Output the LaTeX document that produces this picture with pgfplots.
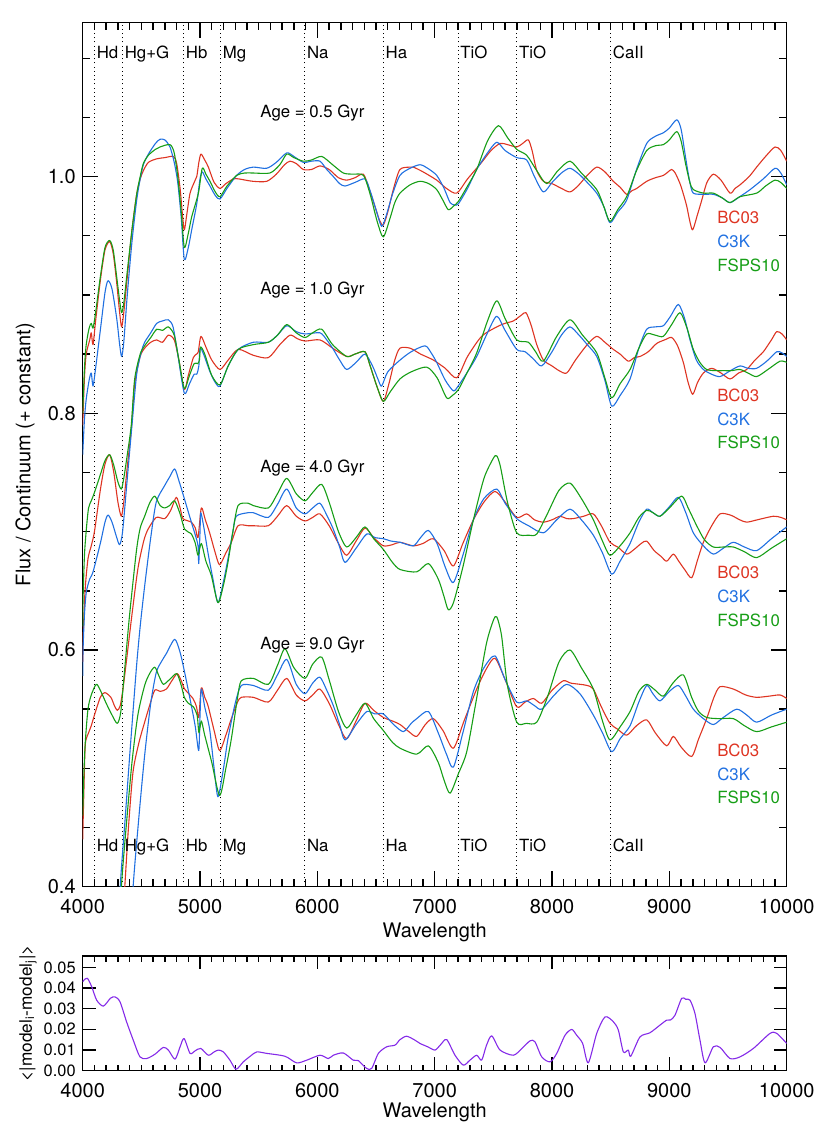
\documentclass[border=0pt]{standalone}
\usepackage{fontspec}
\setmainfont{TeX Gyre Heros}
\usepackage{pgfplots}
\pgfplotsset{compat=1.18}
\definecolor{cred}{RGB}{222,52,34}
\definecolor{cblue}{RGB}{32,112,225}
\definecolor{cgreen}{RGB}{22,158,22}
\definecolor{cpurp}{RGB}{132,42,232}
\newcommand{\smallf}{\fontsize{8.4}{10}\selectfont}
\tikzset{
  dotline/.style={black, line width=0.45pt, dash pattern=on 0.5pt off 1.6pt},
  lab/.style={anchor=base west, inner sep=0pt, xshift=0.9pt, font=\smallf},
  leg/.style={anchor=base west, inner sep=0pt, font=\smallf},
  spec/.style={line width=0.55pt, smooth, tension=0.45, line join=round},
}
\begin{document}
\fontsize{10}{12}\selectfont
\begin{tikzpicture}
\path[use as bounding box] (0,0) rectangle (414pt,569.5pt);
\begin{axis}[
  at={(41.35pt,126.15pt)}, anchor=south west,
  scale only axis, width=352pt, height=432pt,
  xmin=4000, xmax=10000, ymin=0.4, ymax=1.13,
  xtick={4000,5000,...,10000}, minor x tick num=9,
  ytick={0.4,0.6,0.8,1.0},
  minor ytick={0.45,0.5,0.55,0.65,0.7,0.75,0.85,0.9,0.95,1.05,1.1},
  scaled x ticks=false, scaled y ticks=false,
  tick align=inside, tick pos=both,
  major tick length=7.6pt, minor tick length=3.6pt,
  tick style={black, line width=0.7pt},
  axis line style={line width=0.75pt},
  /pgf/number format/assume math mode=true,
  /pgf/number format/1000 sep={},
  xticklabel style={anchor=base, yshift=-13.5pt},
  yticklabel style={/pgf/number format/fixed, /pgf/number format/precision=1, /pgf/number format/fixed zerofill},
  xlabel={Wavelength},
  xlabel style={at={(axis description cs:0.5,0)}, anchor=base, yshift=-25.3pt},
  ylabel={Flux / Continuum (+ constant)},
  ylabel style={at={(axis description cs:-0.082,0.5)}, anchor=center},
  clip=true,
]
% dotted line markers
\addplot[dotline] coordinates {(4102,0.4) (4102,1.13)};
\addplot[dotline] coordinates {(4340,0.4) (4340,1.13)};
\addplot[dotline] coordinates {(4861,0.4) (4861,1.13)};
\addplot[dotline] coordinates {(5175,0.4) (5175,1.13)};
\addplot[dotline] coordinates {(5893,0.4) (5893,1.13)};
\addplot[dotline] coordinates {(6563,0.4) (6563,1.13)};
\addplot[dotline] coordinates {(7200,0.4) (7200,1.13)};
\addplot[dotline] coordinates {(7700,0.4) (7700,1.13)};
\addplot[dotline] coordinates {(8500,0.4) (8500,1.13)};
% ---------------- Age 0.5 Gyr ----------------
\addplot[cred, spec] coordinates {(4000,0.790) (4015,0.830) (4030,0.850) (4060,0.862) (4073,0.868) (4088,0.858) (4110,0.878) (4150,0.912) (4190,0.938) (4230,0.945) (4260,0.935) (4290,0.910) (4315,0.885) (4332,0.873) (4350,0.885) (4380,0.915) (4420,0.955) (4460,0.985) (4490,0.998) (4517,1.005) (4560,1.012) (4631,1.015) (4700,1.016) (4773,1.017) (4801,1.011) (4830,0.990) (4850,0.968) (4866,0.955) (4890,0.970) (4915,0.986) (4950,0.995) (4972,1.000) (4990,1.012) (5008,1.019) (5040,1.014) (5071,1.008) (5120,0.995) (5170,0.990) (5220,0.994) (5284,0.998) (5330,0.998) (5450,0.996) (5568,0.996) (5650,1.002) (5720,1.010) (5767,1.013) (5820,1.011) (5880,1.006) (5950,1.006) (6022,1.009) (6100,1.006) (6180,0.999) (6250,0.997) (6320,0.999) (6392,1.002) (6440,0.990) (6490,0.975) (6530,0.963) (6562,0.959) (6600,0.970) (6650,0.990) (6704,1.006) (6790,1.008) (6818,1.008) (6900,1.004) (7017,0.997) (7100,0.990) (7188,0.986) (7280,0.998) (7400,1.012) (7480,1.022) (7557,1.028) (7620,1.027) (7699,1.025) (7750,1.028) (7798,1.031) (7830,1.022) (7870,1.005) (7926,0.996) (8000,0.994) (8080,0.990) (8153,0.987) (8220,0.992) (8300,1.001) (8381,1.008) (8450,1.004) (8522,0.996) (8580,0.991) (8636,0.985) (8680,0.988) (8722,0.990) (8807,0.996) (8880,0.999) (8949,1.001) (8990,1.004) (9020,1.006) (9050,1.003) (9091,0.994) (9120,0.985) (9148,0.975) (9175,0.962) (9199,0.955) (9240,0.968) (9276,0.980) (9320,0.995) (9375,1.002) (9440,0.997) (9517,0.986) (9560,0.990) (9602,0.993) (9680,1.000) (9744,1.008) (9820,1.017) (9900,1.025) (9950,1.022) (10000,1.013)};
\addplot[cblue, spec] coordinates {(4000,0.765) (4015,0.795) (4030,0.812) (4055,0.828) (4073,0.834) (4088,0.823) (4110,0.838) (4150,0.870) (4190,0.902) (4216,0.912) (4250,0.905) (4290,0.880) (4315,0.858) (4332,0.848) (4350,0.860) (4380,0.900) (4420,0.945) (4460,0.980) (4490,0.998) (4517,1.010) (4560,1.019) (4620,1.028) (4659,1.0315) (4700,1.031) (4744,1.025) (4780,1.012) (4810,0.995) (4840,0.965) (4866,0.930) (4900,0.940) (4929,0.955) (4972,0.977) (5000,0.998) (5019,1.004) (5050,0.998) (5085,0.992) (5130,0.984) (5170,0.981) (5230,0.990) (5312,1.001) (5380,1.006) (5454,1.008) (5568,1.007) (5650,1.012) (5739,1.020) (5800,1.017) (5880,1.012) (5950,1.013) (6022,1.013) (6080,1.006) (6136,1.000) (6190,0.994) (6236,0.992) (6320,0.995) (6406,0.998) (6450,0.988) (6500,0.972) (6548,0.958) (6590,0.968) (6640,0.985) (6704,1.001) (6790,1.007) (6875,1.010) (6940,1.007) (7017,1.001) (7080,0.990) (7131,0.978) (7170,0.976) (7202,0.977) (7280,0.990) (7358,1.006) (7450,1.020) (7529,1.029) (7600,1.022) (7699,1.016) (7784,1.014) (7850,1.000) (7926,0.987) (8000,0.995) (8080,1.003) (8153,1.007) (8230,1.002) (8300,0.995) (8381,0.986) (8440,0.975) (8494,0.961) (8560,0.970) (8636,0.980) (8720,1.006) (8807,1.028) (8880,1.034) (8949,1.037) (9000,1.041) (9063,1.048) (9100,1.040) (9140,1.015) (9175,0.995) (9204,0.986) (9290,0.985) (9375,0.985) (9450,0.982) (9517,0.978) (9600,0.983) (9688,0.989) (9800,0.998) (9900,1.007) (9950,1.003) (10000,0.993)};
\addplot[cgreen, spec] coordinates {(4000,0.800) (4015,0.838) (4030,0.858) (4055,0.872) (4073,0.876) (4088,0.872) (4110,0.885) (4150,0.915) (4190,0.940) (4230,0.946) (4260,0.938) (4290,0.915) (4315,0.895) (4332,0.885) (4350,0.893) (4380,0.920) (4420,0.955) (4460,0.985) (4490,1.000) (4517,1.011) (4560,1.018) (4620,1.023) (4659,1.025) (4744,1.027) (4780,1.020) (4810,1.000) (4840,0.970) (4866,0.940) (4900,0.952) (4929,0.966) (4986,0.986) (5019,1.007) (5050,1.002) (5085,0.996) (5130,0.987) (5170,0.983) (5230,0.992) (5312,1.001) (5380,1.003) (5454,1.003) (5596,1.003) (5680,1.010) (5739,1.019) (5800,1.016) (5880,1.013) (5950,1.014) (6037,1.017) (6130,1.010) (6221,1.003) (6300,1.002) (6392,1.001) (6450,0.985) (6510,0.962) (6562,0.949) (6620,0.965) (6660,0.978) (6704,0.986) (6790,0.993) (6875,0.996) (6950,0.994) (7017,0.989) (7070,0.980) (7116,0.972) (7160,0.975) (7202,0.979) (7280,0.992) (7358,1.006) (7450,1.030) (7543,1.043) (7620,1.033) (7699,1.023) (7784,1.018) (7870,1.005) (7955,0.994) (8050,1.005) (8153,1.013) (8250,1.003) (8381,0.989) (8440,0.975) (8494,0.962) (8560,0.972) (8636,0.983) (8720,1.005) (8807,1.022) (8880,1.026) (8949,1.027) (9000,1.031) (9063,1.038) (9100,1.030) (9140,1.010) (9175,0.995) (9204,0.989) (9290,0.986) (9375,0.986) (9450,0.982) (9517,0.978) (9602,0.983) (9744,0.986) (9820,0.992) (9900,0.997) (9950,0.995) (10000,0.990)};
% ---------------- Age 1.0 Gyr ----------------
\addplot[cred, spec] coordinates {(4000,0.590) (4003,0.609) (4020,0.650) (4045,0.677) (4073,0.688) (4100,0.700) (4150,0.735) (4190,0.757) (4230,0.765) (4265,0.750) (4300,0.725) (4329,0.713) (4350,0.725) (4380,0.755) (4414,0.786) (4443,0.825) (4490,0.848) (4528,0.855) (4580,0.860) (4631,0.862) (4680,0.860) (4730,0.866) (4780,0.862) (4820,0.845) (4866,0.820) (4900,0.832) (4943,0.847) (4970,0.850) (4985,0.852) (5008,0.865) (5050,0.856) (5100,0.845) (5170,0.837) (5240,0.845) (5326,0.854) (5454,0.849) (5582,0.847) (5680,0.858) (5767,0.866) (5830,0.863) (5895,0.861) (6022,0.862) (6130,0.855) (6250,0.848) (6320,0.850) (6406,0.852) (6450,0.840) (6510,0.822) (6562,0.810) (6610,0.825) (6660,0.845) (6704,0.855) (6790,0.855) (6880,0.850) (6988,0.845) (7090,0.838) (7188,0.830) (7280,0.848) (7400,0.865) (7529,0.873) (7600,0.876) (7670,0.878) (7740,0.883) (7778,0.885) (7820,0.875) (7870,0.858) (7926,0.845) (8000,0.840) (8060,0.836) (8125,0.834) (8200,0.845) (8300,0.858) (8381,0.865) (8450,0.860) (8522,0.854) (8580,0.850) (8650,0.844) (8700,0.847) (8750,0.848) (8820,0.852) (8892,0.859) (8960,0.862) (9020,0.864) (9070,0.857) (9119,0.843) (9160,0.826) (9199,0.816) (9240,0.826) (9290,0.834) (9361,0.838) (9440,0.834) (9517,0.829) (9590,0.834) (9659,0.837) (9730,0.845) (9801,0.852) (9870,0.862) (9915,0.869) (9960,0.867) (10000,0.862)};
\addplot[cblue, spec] coordinates {(4000,0.578) (4003,0.600) (4015,0.630) (4031,0.649) (4060,0.660) (4088,0.666) (4150,0.690) (4190,0.708) (4216,0.714) (4250,0.708) (4290,0.695) (4315,0.689) (4340,0.700) (4380,0.745) (4420,0.790) (4460,0.833) (4500,0.852) (4528,0.860) (4580,0.868) (4631,0.876) (4680,0.878) (4730,0.879) (4770,0.873) (4810,0.850) (4866,0.817) (4910,0.825) (4950,0.833) (4972,0.833) (4990,0.840) (5000,0.855) (5030,0.850) (5085,0.835) (5130,0.826) (5170,0.823) (5240,0.840) (5326,0.854) (5454,0.860) (5582,0.860) (5660,0.866) (5739,0.874) (5820,0.869) (5895,0.867) (6022,0.868) (6080,0.862) (6136,0.854) (6190,0.845) (6250,0.837) (6330,0.843) (6406,0.850) (6470,0.840) (6520,0.828) (6548,0.823) (6600,0.835) (6705,0.845) (6800,0.852) (6918,0.857) (6970,0.851) (7017,0.843) (7090,0.828) (7159,0.819) (7200,0.823) (7280,0.835) (7358,0.848) (7450,0.868) (7529,0.882) (7600,0.870) (7699,0.854) (7770,0.852) (7840,0.846) (7912,0.840) (8000,0.852) (8080,0.866) (8153,0.873) (8230,0.866) (8300,0.858) (8381,0.848) (8450,0.828) (8509,0.806) (8580,0.815) (8665,0.829) (8740,0.855) (8807,0.871) (8880,0.873) (8949,0.874) (9010,0.882) (9077,0.892) (9130,0.880) (9176,0.862) (9230,0.845) (9290,0.837) (9360,0.833) (9432,0.831) (9520,0.836) (9602,0.840) (9670,0.838) (9744,0.838) (9830,0.844) (9915,0.852) (9960,0.851) (10000,0.848)};
\addplot[cgreen, spec] coordinates {(4000,0.620) (4003,0.643) (4015,0.680) (4031,0.702) (4050,0.720) (4073,0.726) (4100,0.733) (4150,0.748) (4190,0.760) (4230,0.765) (4265,0.756) (4300,0.742) (4329,0.736) (4350,0.745) (4380,0.765) (4414,0.790) (4443,0.829) (4490,0.850) (4528,0.857) (4580,0.864) (4631,0.871) (4680,0.870) (4730,0.873) (4780,0.866) (4820,0.845) (4866,0.821) (4910,0.832) (4950,0.842) (4980,0.842) (4995,0.845) (5005,0.856) (5040,0.850) (5100,0.832) (5170,0.824) (5240,0.840) (5326,0.854) (5454,0.858) (5582,0.860) (5660,0.866) (5739,0.875) (5820,0.868) (5895,0.864) (5960,0.868) (6037,0.871) (6130,0.858) (6250,0.848) (6320,0.850) (6406,0.852) (6450,0.840) (6510,0.822) (6562,0.810) (6620,0.818) (6704,0.829) (6800,0.835) (6932,0.839) (7020,0.830) (7102,0.813) (7150,0.815) (7202,0.820) (7280,0.835) (7358,0.851) (7450,0.878) (7529,0.895) (7600,0.880) (7699,0.862) (7798,0.860) (7860,0.852) (7926,0.844) (8040,0.865) (8153,0.879) (8260,0.866) (8381,0.851) (8450,0.830) (8509,0.813) (8580,0.825) (8665,0.837) (8740,0.855) (8807,0.867) (8880,0.866) (8949,0.865) (9020,0.875) (9091,0.885) (9150,0.872) (9204,0.854) (9260,0.843) (9318,0.837) (9400,0.836) (9460,0.836) (9530,0.836) (9602,0.837) (9670,0.834) (9744,0.831) (9840,0.837) (9943,0.844) (10000,0.843)};
% ---------------- Age 4.0 Gyr ----------------
\addplot[cred, spec] coordinates {(4000,0.440) (4010,0.480) (4022,0.520) (4050,0.530) (4073,0.536) (4100,0.545) (4150,0.560) (4188,0.564) (4240,0.560) (4270,0.553) (4295,0.549) (4320,0.553) (4343,0.567) (4372,0.590) (4420,0.630) (4471,0.669) (4520,0.692) (4557,0.702) (4627,0.712) (4699,0.711) (4750,0.718) (4798,0.729) (4830,0.720) (4855,0.711) (4926,0.708) (4960,0.703) (4983,0.695) (5011,0.720) (5045,0.710) (5082,0.699) (5130,0.682) (5167,0.672) (5220,0.682) (5267,0.691) (5324,0.705) (5409,0.705) (5454,0.705) (5582,0.705) (5660,0.713) (5739,0.722) (5820,0.713) (5895,0.709) (5960,0.712) (6022,0.715) (6100,0.705) (6180,0.690) (6250,0.680) (6330,0.692) (6406,0.703) (6480,0.695) (6562,0.688) (6640,0.689) (6705,0.691) (6818,0.688) (6900,0.690) (6988,0.694) (7080,0.684) (7159,0.671) (7240,0.690) (7330,0.710) (7420,0.725) (7514,0.734) (7600,0.725) (7699,0.712) (7784,0.715) (7850,0.710) (7926,0.708) (8000,0.710) (8068,0.713) (8125,0.711) (8181,0.711) (8270,0.713) (8352,0.715) (8420,0.705) (8494,0.691) (8560,0.687) (8636,0.681) (8700,0.685) (8760,0.690) (8807,0.692) (8870,0.684) (8930,0.679) (8977,0.675) (9034,0.681) (9080,0.675) (9130,0.668) (9190,0.661) (9240,0.676) (9290,0.691) (9361,0.705) (9432,0.715) (9520,0.714) (9600,0.710) (9659,0.708) (9750,0.710) (9886,0.713) (9950,0.712) (10000,0.710)};
\addplot[cblue, spec] coordinates {(4000,0.300) (4300,0.340) (4320,0.400) (4360,0.455) (4400,0.510) (4457,0.584) (4490,0.620) (4528,0.654) (4580,0.695) (4627,0.725) (4699,0.739) (4740,0.746) (4784,0.753) (4820,0.743) (4869,0.727) (4926,0.708) (4960,0.697) (4983,0.688) (4989,0.673) (5000,0.700) (5006,0.716) (5030,0.705) (5068,0.682) (5110,0.660) (5153,0.640) (5200,0.658) (5238,0.677) (5280,0.700) (5309,0.713) (5409,0.716) (5454,0.716) (5582,0.712) (5660,0.723) (5739,0.736) (5820,0.720) (5895,0.715) (5960,0.720) (6022,0.724) (6080,0.714) (6136,0.702) (6190,0.687) (6236,0.674) (6330,0.686) (6421,0.698) (6490,0.695) (6562,0.694) (6630,0.692) (6705,0.691) (6818,0.688) (6880,0.695) (6946,0.701) (7020,0.690) (7090,0.670) (7159,0.657) (7240,0.680) (7330,0.710) (7420,0.728) (7529,0.736) (7600,0.724) (7699,0.711) (7800,0.705) (7926,0.699) (8040,0.710) (8153,0.719) (8250,0.710) (8352,0.697) (8430,0.682) (8509,0.664) (8580,0.675) (8665,0.690) (8740,0.708) (8807,0.719) (8860,0.716) (8920,0.713) (9000,0.721) (9077,0.729) (9140,0.716) (9204,0.699) (9290,0.688) (9375,0.681) (9460,0.686) (9545,0.691) (9640,0.687) (9744,0.684) (9870,0.694) (10000,0.704)};
\addplot[cgreen, spec] coordinates {(4000,0.460) (4010,0.495) (4022,0.522) (4045,0.550) (4073,0.562) (4116,0.571) (4150,0.566) (4200,0.555) (4250,0.545) (4295,0.538) (4325,0.548) (4358,0.584) (4400,0.630) (4457,0.683) (4490,0.703) (4528,0.713) (4570,0.724) (4614,0.730) (4660,0.722) (4699,0.720) (4740,0.722) (4784,0.726) (4830,0.715) (4869,0.702) (4926,0.698) (4960,0.690) (4983,0.680) (5011,0.690) (5050,0.675) (5096,0.663) (5153,0.640) (5200,0.655) (5238,0.674) (5280,0.700) (5324,0.722) (5409,0.724) (5454,0.722) (5582,0.720) (5660,0.732) (5739,0.745) (5820,0.732) (5895,0.726) (5960,0.733) (6037,0.740) (6100,0.725) (6180,0.700) (6250,0.687) (6330,0.695) (6406,0.704) (6480,0.694) (6562,0.685) (6640,0.674) (6705,0.668) (6847,0.666) (6946,0.673) (7030,0.660) (7080,0.645) (7116,0.634) (7160,0.640) (7240,0.670) (7330,0.710) (7420,0.745) (7500,0.762) (7529,0.764) (7560,0.755) (7620,0.725) (7699,0.699) (7800,0.697) (7870,0.698) (7960,0.715) (8060,0.735) (8153,0.741) (8250,0.728) (8352,0.710) (8430,0.692) (8494,0.680) (8580,0.688) (8665,0.699) (8740,0.712) (8807,0.718) (8860,0.716) (8920,0.713) (9000,0.720) (9105,0.730) (9160,0.720) (9233,0.705) (9300,0.693) (9375,0.687) (9460,0.687) (9545,0.687) (9640,0.683) (9744,0.678) (9870,0.686) (10000,0.694)};
% ---------------- Age 9.0 Gyr ----------------
\addplot[cred, spec] coordinates {(4000,0.300) (4330,0.360) (4358,0.399) (4390,0.450) (4429,0.497) (4480,0.522) (4528,0.539) (4570,0.553) (4614,0.566) (4660,0.565) (4713,0.567) (4760,0.574) (4806,0.580) (4840,0.574) (4869,0.567) (4940,0.559) (4970,0.552) (4989,0.543) (5011,0.568) (5040,0.560) (5068,0.553) (5120,0.532) (5167,0.515) (5220,0.528) (5267,0.542) (5320,0.556) (5352,0.560) (5454,0.560) (5582,0.556) (5660,0.566) (5739,0.576) (5820,0.562) (5895,0.557) (5960,0.562) (6022,0.567) (6100,0.555) (6180,0.537) (6250,0.525) (6330,0.540) (6406,0.555) (6480,0.549) (6562,0.543) (6640,0.540) (6705,0.537) (6780,0.531) (6847,0.527) (6920,0.537) (6988,0.542) (7070,0.532) (7159,0.517) (7250,0.540) (7358,0.567) (7440,0.584) (7514,0.593) (7600,0.575) (7699,0.552) (7770,0.556) (7841,0.559) (7912,0.555) (8000,0.566) (8096,0.574) (8160,0.572) (8238,0.571) (8300,0.570) (8352,0.567) (8420,0.552) (8494,0.538) (8560,0.533) (8636,0.528) (8720,0.536) (8807,0.541) (8880,0.530) (8977,0.519) (9034,0.527) (9100,0.518) (9190,0.510) (9250,0.525) (9318,0.542) (9380,0.560) (9432,0.569) (9545,0.567) (9650,0.562) (9744,0.560) (9850,0.561) (9943,0.562) (10000,0.559)};
\addplot[cblue, spec] coordinates {(4000,0.300) (4400,0.340) (4429,0.399) (4480,0.460) (4528,0.511) (4580,0.555) (4627,0.581) (4670,0.590) (4713,0.597) (4784,0.609) (4830,0.598) (4869,0.581) (4926,0.553) (4960,0.535) (4989,0.515) (5000,0.545) (5011,0.567) (5040,0.552) (5082,0.533) (5120,0.500) (5153,0.476) (5200,0.500) (5238,0.525) (5300,0.555) (5352,0.570) (5454,0.570) (5582,0.566) (5660,0.579) (5739,0.592) (5820,0.571) (5895,0.563) (5960,0.572) (6022,0.577) (6080,0.566) (6136,0.553) (6190,0.537) (6236,0.524) (6330,0.537) (6421,0.548) (6490,0.546) (6562,0.546) (6650,0.537) (6733,0.531) (6800,0.538) (6847,0.542) (6946,0.548) (7030,0.530) (7100,0.512) (7159,0.501) (7240,0.530) (7330,0.565) (7420,0.585) (7514,0.595) (7600,0.575) (7699,0.556) (7784,0.557) (7850,0.553) (7912,0.550) (8020,0.562) (8125,0.571) (8238,0.563) (8352,0.545) (8430,0.530) (8509,0.514) (8580,0.525) (8665,0.536) (8740,0.556) (8807,0.570) (8860,0.563) (8920,0.557) (9000,0.565) (9077,0.570) (9140,0.561) (9204,0.550) (9290,0.542) (9375,0.537) (9460,0.543) (9574,0.550) (9660,0.545) (9744,0.539) (9870,0.545) (10000,0.550)};
\addplot[cgreen, spec] coordinates {(4000,0.300) (4300,0.340) (4329,0.399) (4370,0.450) (4420,0.505) (4470,0.545) (4528,0.570) (4570,0.580) (4614,0.5855) (4650,0.578) (4687,0.571) (4740,0.575) (4801,0.580) (4840,0.570) (4866,0.560) (4900,0.555) (4943,0.552) (4975,0.545) (4991,0.530) (5011,0.540) (5040,0.528) (5100,0.505) (5167,0.477) (5220,0.500) (5267,0.525) (5320,0.560) (5352,0.574) (5454,0.576) (5582,0.571) (5660,0.587) (5724,0.601) (5800,0.585) (5895,0.576) (5960,0.588) (6037,0.594) (6100,0.575) (6180,0.548) (6250,0.534) (6330,0.545) (6406,0.555) (6480,0.542) (6562,0.532) (6640,0.522) (6705,0.517) (6847,0.512) (6946,0.519) (7030,0.505) (7080,0.490) (7131,0.479) (7200,0.495) (7273,0.514) (7350,0.555) (7440,0.605) (7500,0.625) (7529,0.628) (7570,0.612) (7620,0.570) (7699,0.539) (7780,0.538) (7870,0.539) (7960,0.560) (8060,0.590) (8153,0.600) (8250,0.585) (8352,0.567) (8430,0.540) (8494,0.524) (8580,0.535) (8665,0.548) (8740,0.565) (8807,0.571) (8880,0.566) (8949,0.561) (9030,0.572) (9119,0.579) (9190,0.560) (9250,0.548) (9318,0.543) (9420,0.542) (9545,0.542) (9640,0.536) (9744,0.531) (9870,0.535) (10000,0.539)};
% ---------------- labels ----------------
\node[lab] at (axis cs:4102,1.10) {Hd};
\node[lab] at (axis cs:4340,1.10) {Hg+G};
\node[lab] at (axis cs:4861,1.10) {Hb};
\node[lab] at (axis cs:5175,1.10) {Mg};
\node[lab] at (axis cs:5893,1.10) {Na};
\node[lab] at (axis cs:6563,1.10) {Ha};
\node[lab] at (axis cs:7200,1.10) {TiO};
\node[lab] at (axis cs:7700,1.10) {TiO};
\node[lab] at (axis cs:8500,1.10) {CaII};
\node[lab] at (axis cs:4102,0.43) {Hd};
\node[lab] at (axis cs:4340,0.43) {Hg+G};
\node[lab] at (axis cs:4861,0.43) {Hb};
\node[lab] at (axis cs:5175,0.43) {Mg};
\node[lab] at (axis cs:5893,0.43) {Na};
\node[lab] at (axis cs:6563,0.43) {Ha};
\node[lab] at (axis cs:7200,0.43) {TiO};
\node[lab] at (axis cs:7700,0.43) {TiO};
\node[lab] at (axis cs:8500,0.43) {CaII};
\node[anchor=base, inner sep=0pt, font=\smallf] at (axis cs:5958,1.05) {Age = 0.5 Gyr};
\node[anchor=base, inner sep=0pt, font=\smallf] at (axis cs:5958,0.90) {Age = 1.0 Gyr};
\node[anchor=base, inner sep=0pt, font=\smallf] at (axis cs:5958,0.75) {Age = 4.0 Gyr};
\node[anchor=base, inner sep=0pt, font=\smallf] at (axis cs:5958,0.60) {Age = 9.0 Gyr};
\node[leg, text=cred] at (axis cs:9405,0.96) {BC03};
\node[leg, text=cblue] at (axis cs:9405,0.94) {C3K};
\node[leg, text=cgreen] at (axis cs:9405,0.92) {FSPS10};
\node[leg, text=cred] at (axis cs:9405,0.81) {BC03};
\node[leg, text=cblue] at (axis cs:9405,0.79) {C3K};
\node[leg, text=cgreen] at (axis cs:9405,0.77) {FSPS10};
\node[leg, text=cred] at (axis cs:9405,0.66) {BC03};
\node[leg, text=cblue] at (axis cs:9405,0.64) {C3K};
\node[leg, text=cgreen] at (axis cs:9405,0.62) {FSPS10};
\node[leg, text=cred] at (axis cs:9405,0.51) {BC03};
\node[leg, text=cblue] at (axis cs:9405,0.49) {C3K};
\node[leg, text=cgreen] at (axis cs:9405,0.47) {FSPS10};
\end{axis}
\begin{axis}[
  at={(41.35pt,34.25pt)}, anchor=south west,
  scale only axis, width=352pt, height=57.25pt,
  xmin=4000, xmax=10000, ymin=0, ymax=0.0555,
  xtick={4000,5000,...,10000}, minor x tick num=9,
  ytick={0,0.01,0.02,0.03,0.04,0.05},
  scaled x ticks=false, scaled y ticks=false,
  tick align=inside, tick pos=both,
  major tick length=6.5pt, minor tick length=2.9pt,
  tick style={black, line width=0.7pt},
  axis line style={line width=0.75pt},
  /pgf/number format/assume math mode=true,
  /pgf/number format/1000 sep={},
  xticklabel style={anchor=base, yshift=-13.3pt},
  yticklabel style={font=\fontsize{8.2}{9}\selectfont, /pgf/number format/fixed, /pgf/number format/precision=2, /pgf/number format/fixed zerofill},
  xlabel={Wavelength},
  xlabel style={at={(axis description cs:0.5,0)}, anchor=base, yshift=-23.6pt},
  ylabel={<|model\textsubscript{i}-model\textsubscript{j}|>},
  ylabel style={at={(axis description cs:-0.0777,0.5)}, anchor=center, font=\fontsize{8.6}{10}\selectfont},
]
\addplot[cpurp, spec] coordinates {(4000,0.0430) (4011,0.0438) (4040,0.0447) (4077,0.0406) (4119,0.0341) (4176,0.0312) (4236,0.0350) (4275,0.0357) (4318,0.0333) (4374,0.0236) (4431,0.0147) (4488,0.0066) (4545,0.0058) (4616,0.0079) (4687,0.0112) (4730,0.0099) (4787,0.0055) (4830,0.0115) (4864,0.0155) (4915,0.0083) (4957,0.0095) (5006,0.0107) (5071,0.0074) (5120,0.0090) (5156,0.0099) (5199,0.0090) (5255,0.0050) (5307,0.0006) (5369,0.0042) (5430,0.0070) (5483,0.0090) (5568,0.0083) (5724,0.0069) (5823,0.0037) (5909,0.0050) (6022,0.0074) (6093,0.0058) (6136,0.0074) (6221,0.0085) (6306,0.0050) (6349,0.0048) (6420,0.0010) (6463,0.0010) (6520,0.0083) (6591,0.0115) (6662,0.0123) (6705,0.0150) (6761,0.0166) (6832,0.0147) (6875,0.0131) (6940,0.0115) (7003,0.0099) (7050,0.0125) (7102,0.0150) (7173,0.0074) (7244,0.0026) (7300,0.0050) (7358,0.0074) (7400,0.0050) (7440,0.0120) (7486,0.0168) (7557,0.0099) (7670,0.0074) (7740,0.0105) (7813,0.0144) (7855,0.0139) (7912,0.0066) (7983,0.0042) (8040,0.0083) (8111,0.0171) (8168,0.0199) (8210,0.0171) (8261,0.0131) (8309,0.0037) (8381,0.0180) (8452,0.0260) (8523,0.0236) (8565,0.0196) (8608,0.0090) (8650,0.0099) (8671,0.0069) (8750,0.0163) (8835,0.0183) (8920,0.0220) (8977,0.0244) (9010,0.0245) (9048,0.0268) (9105,0.0350) (9140,0.0345) (9176,0.0341) (9218,0.0277) (9260,0.0150) (9304,0.0037) (9375,0.0115) (9432,0.0112) (9517,0.0058) (9602,0.0066) (9716,0.0107) (9858,0.0180) (9915,0.0180) (10000,0.0131)};
\end{axis}
\end{tikzpicture}
\end{document}
